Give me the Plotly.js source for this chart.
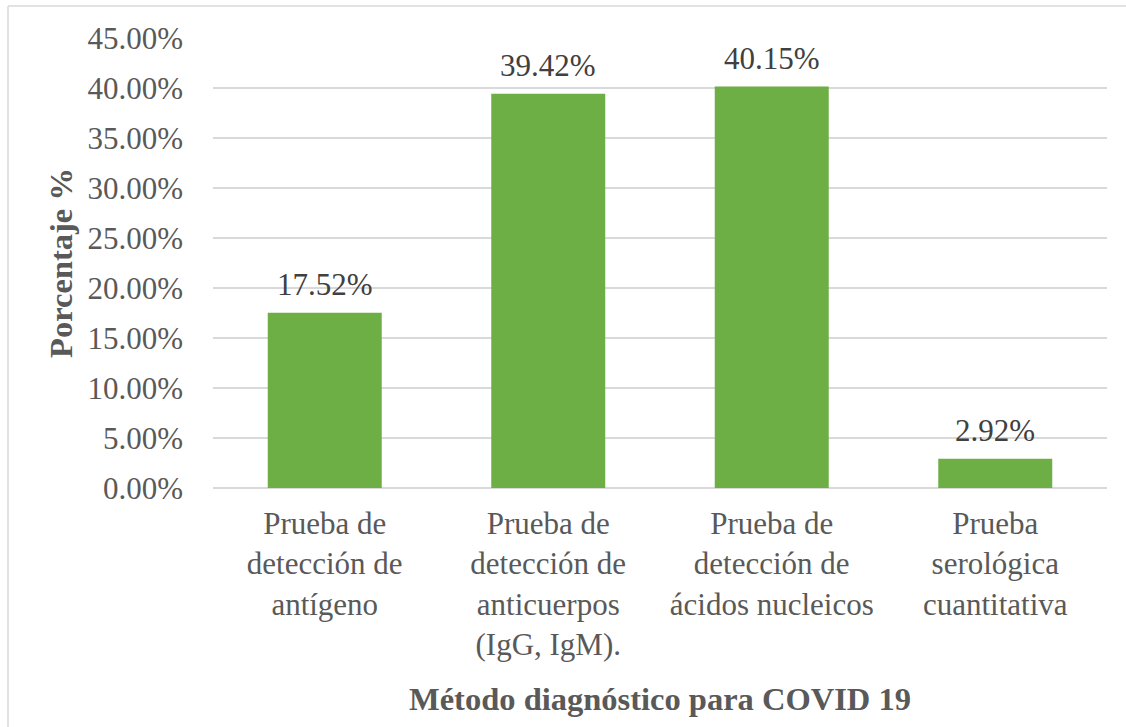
<!DOCTYPE html>
<html>
<head>
<meta charset="utf-8">
<script src="https://cdn.plot.ly/plotly-3.0.1.min.js"></script>
</head>
<body style="margin:0;padding:0;background:#fff;">
<div id="chart"></div>
<script>
const categories = [
  "Prueba de<br>detección de<br>antígeno",
  "Prueba de<br>detección de<br>anticuerpos<br>(IgG, IgM).",
  "Prueba de<br>detección de<br>ácidos nucleicos",
  "Prueba<br>serológica<br>cuantitativa"
];
const values = [17.52, 39.42, 40.15, 2.92];
const valueLabels = ["17.52%", "39.42%", "40.15%", "2.92%"];
const yTitle = "Porcentaje %";
const xTitle = "Método diagnóstico para COVID 19";

const FONT = "Liberation Serif";
const FS = 31;
const TS = 32.5;

const trace = {
  type: "bar",
  x: categories,
  y: values,
  marker: {color: "#6DAE45", line: {width: 0}},
  hoverinfo: "none"
};

const annotations = categories.map((c, i) => ({
  x: c, y: values[i], xref: "x", yref: "y",
  text: valueLabels[i], showarrow: false,
  yanchor: "bottom", yshift: 9,
  font: {family: FONT, size: FS, color: "#404040"}
}));

const layout = {
  width: 1126,
  height: 727,
  margin: {l: 213, r: 19, t: 38, b: 239},
  paper_bgcolor: "#ffffff",
  plot_bgcolor: "#ffffff",
  showlegend: false,
  bargap: 0.49,
  font: {family: FONT, size: FS, color: "#595959"},
  xaxis: {
    type: "category",
    showgrid: false,
    showline: false,
    zeroline: false,
    ticks: "",
    tickfont: {family: FONT, size: FS, color: "#595959"},
    ticklabelstandoff: 14,
    title: {text: "<b>" + xTitle + "</b>", font: {family: FONT, size: TS, color: "#595959"}, standoff: 26}
  },
  yaxis: {
    range: [0, 45],
    dtick: 5,
    tick0: 0,
    tickformat: ".2f",
    ticksuffix: "%",
    showgrid: true,
    gridcolor: "#d9d9d9",
    gridwidth: 1.5,
    zeroline: true,
    zerolinecolor: "#d9d9d9",
    zerolinewidth: 1.5,
    showline: false,
    ticks: "",
    ticklabelstandoff: 29,
    tickfont: {family: FONT, size: FS, color: "#595959"},
    title: {text: "<b>" + yTitle + "</b>", font: {family: FONT, size: TS, color: "#595959"}, standoff: 5}
  },
  annotations: annotations,
  shapes: [
    {type: "line", xref: "paper", yref: "paper", x0: -0.2293, x1: 1.2, y0: 1.0711, y1: 1.0711,
     line: {color: "#d9d9d9", width: 1.5}},
    {type: "line", xref: "paper", yref: "paper", x0: -0.2293, x1: -0.2293, y0: 1.0711, y1: -0.6,
     line: {color: "#d9d9d9", width: 1.5}}
  ]
};

Plotly.newPlot("chart", [trace], layout, {displayModeBar: false});
</script>
</body>
</html>
